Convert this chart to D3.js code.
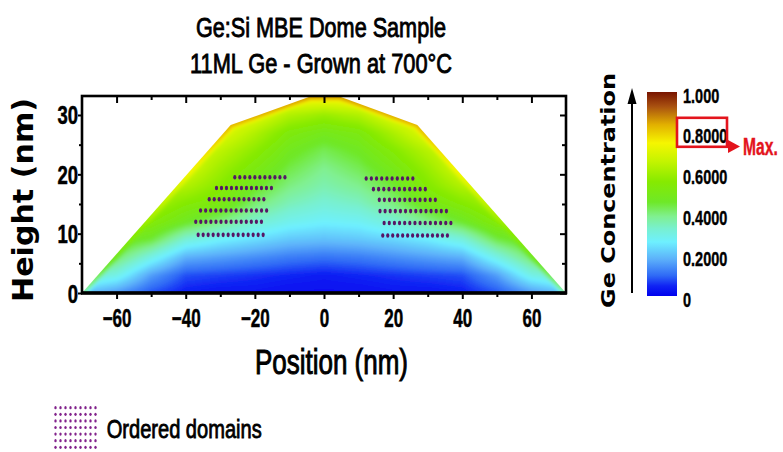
<!DOCTYPE html>
<html><head><meta charset="utf-8">
<script src="https://cdn.jsdelivr.net/npm/d3@7"></script>
<style>html,body{margin:0;padding:0;background:#fff;} svg{display:block}</style>
</head><body>
<svg id="chart" width="783" height="452"></svg>
<script>
// ---------------- data ----------------
const titleLines = ["Ge:Si MBE Dome Sample", "11ML Ge - Grown at 700°C"];
const xLabel = "Position (nm)";
const yLabel = "Height (nm)";
const cbTitle = "Ge Concentration";
const legendLabel = "Ordered domains";
const maxLabel = "Max.";
const xTicks = [-60, -40, -20, 0, 20, 40, 60];
const xMinorTicks = [-50, -30, -10, 10, 30, 50];
const yTicks = [0, 10, 20, 30];
const yMinorTicks = [5, 15, 25];
const cbTicks = [0, 0.2, 0.4, 0.6, 0.8, 1.0];
const cbTickLabels = ["0", "0.2000", "0.4000", "0.6000", "0.8000", "1.000"];
const maxValue = 0.8;

// dome surface profile (nm)
const profileX = [-70, -27, -4, 4.5, 27, 70];
const profileH = [0, 28.3, 33.1, 33.1, 28.3, 0];
// Ge concentration right at the surface
const rimX = [-70, -55, -40, -27, -4, 4.5, 27, 40, 55, 70];
const rimC = [0.38, 0.56, 0.74, 0.84, 0.86, 0.86, 0.84, 0.74, 0.56, 0.38];

// Ge concentration field (rows = heights, cols = positions)
const gridX = [-70, -60, -50, -40, -30, -20, -10, 0, 10, 20, 30, 40, 50, 60, 70];
const gridH = [0, 3, 6, 9, 12, 15, 18, 21, 24, 27, 30, 33];
const conc = [
  [0.20,0.15,0.08,0.04,0.03,0.03,0.02,0.02,0.02,0.03,0.03,0.04,0.08,0.15,0.20],
  [0.35,0.30,0.16,0.08,0.07,0.06,0.05,0.04,0.05,0.06,0.07,0.08,0.16,0.30,0.35],
  [0.45,0.42,0.30,0.18,0.16,0.14,0.12,0.11,0.12,0.14,0.16,0.18,0.30,0.42,0.45],
  [0.50,0.50,0.45,0.32,0.27,0.24,0.21,0.20,0.21,0.23,0.26,0.31,0.44,0.50,0.50],
  [0.55,0.55,0.55,0.47,0.40,0.33,0.29,0.27,0.28,0.32,0.39,0.46,0.55,0.55,0.55],
  [0.60,0.60,0.62,0.55,0.51,0.41,0.35,0.32,0.34,0.40,0.49,0.55,0.62,0.60,0.60],
  [0.62,0.62,0.64,0.63,0.56,0.47,0.40,0.36,0.39,0.45,0.55,0.63,0.64,0.62,0.62],
  [0.66,0.66,0.66,0.70,0.60,0.52,0.44,0.39,0.43,0.50,0.59,0.70,0.66,0.66,0.66],
  [0.70,0.70,0.70,0.72,0.65,0.57,0.48,0.43,0.47,0.55,0.64,0.72,0.70,0.70,0.70],
  [0.72,0.72,0.72,0.73,0.72,0.63,0.53,0.49,0.52,0.62,0.72,0.73,0.72,0.72,0.72],
  [0.74,0.74,0.74,0.74,0.74,0.72,0.63,0.59,0.63,0.72,0.74,0.74,0.74,0.74,0.74],
  [0.76,0.76,0.76,0.76,0.76,0.76,0.76,0.76,0.76,0.76,0.76,0.76,0.76,0.76,0.76]
];

// colour map stops
const cmapStops  = [0.00, 0.05, 0.10, 0.18, 0.265, 0.33, 0.39, 0.46, 0.56, 0.66, 0.75, 0.84, 0.93, 1.00];
const cmapColors = ["#0000ee","#1024f4","#2f6af6","#5cb0fa","#6ef0ff","#78f0d0","#80f090","#6ee828","#86ea00","#c4f400","#f6f600","#e2b000","#a85010","#781400"];

// ordered-domain rows: height, first & last position, dot count
const domainRows = [
  {h: 19.5, x0: -25.8, x1: -11.3, n: 11},
  {h: 17.7, x0: -31.1, x1: -15.2, n: 12},
  {h: 15.8, x0: -33.2, x1: -17.4, n: 12},
  {h: 13.9, x0: -35.7, x1: -16.6, n: 14},
  {h: 12.0, x0: -37.1, x1: -18.1, n: 14},
  {h: 9.8,  x0: -36.4, x1: -17.6, n: 14},
  {h: 19.3, x0: 12.2,  x1: 25.7,  n: 10},
  {h: 17.5, x0: 14.3,  x1: 29.3,  n: 11},
  {h: 15.7, x0: 16.0,  x1: 32.2,  n: 12},
  {h: 13.8, x0: 16.2,  x1: 35.4,  n: 14},
  {h: 11.8, x0: 17.4,  x1: 36.7,  n: 14},
  {h: 9.7,  x0: 17.0,  x1: 35.7,  n: 14}
];

// ---------------- layout ----------------
const svg = d3.select("#chart");
const plotL = 82, plotR = 566, plotT = 96, plotB = 293;
const xs = d3.scaleLinear().domain([-70, 70]).range([plotL, plotR]);
const ys = d3.scaleLinear().domain([0, 33.2]).range([plotB, plotT]);
const cmap = d3.scaleLinear().domain(cmapStops).range(cmapColors).interpolate(d3.interpolateRgb).clamp(true);
const SANS = "'Liberation Sans', Arial, sans-serif";
const WIDE = "'DejaVu Sans', Verdana, sans-serif";

function condense(sel, k) {
  sel.each(function () {
    const w = this.getComputedTextLength();
    d3.select(this).attr("textLength", w * k).attr("lengthAdjust", "spacingAndGlyphs");
  });
}
function fitTo(sel, w) { sel.attr("textLength", w).attr("lengthAdjust", "spacingAndGlyphs"); }
function heavy(sel, w) { sel.attr("stroke", sel.attr("fill")).attr("stroke-width", w).attr("paint-order", "stroke"); }

// ---------------- field raster ----------------
const M = 10;
const W = (plotR - plotL) + 2 * M, H = (plotB - plotT) + 2 * M;
const cv = document.createElement("canvas");
cv.width = W; cv.height = H;
const ctx = cv.getContext("2d");
const img = ctx.createImageData(W, H);
const lut = d3.range(1001).map(i => d3.rgb(cmap(i / 1000)));
const topPts = profileX.map((d, i) => [xs(d), ys(profileH[i])]);
const surfC = d3.scaleLinear().domain(rimX).range(rimC).clamp(true);
function distTop(px, py) {
  let best = 1e9;
  for (let k = 0; k < topPts.length - 1; k++) {
    const [ax, ay] = topPts[k], [bx, by] = topPts[k + 1];
    const dx = bx - ax, dy = by - ay;
    let t = ((px - ax) * dx + (py - ay) * dy) / (dx * dx + dy * dy);
    t = Math.max(0, Math.min(1, t));
    const ex = ax + t * dx - px, ey = ay + t * dy - py;
    best = Math.min(best, Math.sqrt(ex * ex + ey * ey));
  }
  return best;
}
function sample(xv, hv) {
  xv = Math.max(gridX[0], Math.min(gridX[gridX.length - 1], xv));
  hv = Math.max(gridH[0], Math.min(gridH[gridH.length - 1], hv));
  let i = Math.min(gridX.length - 2, Math.max(0, d3.bisectRight(gridX, xv) - 1));
  let j = Math.min(gridH.length - 2, Math.max(0, d3.bisectRight(gridH, hv) - 1));
  const tx = (xv - gridX[i]) / (gridX[i + 1] - gridX[i]);
  const ty = (hv - gridH[j]) / (gridH[j + 1] - gridH[j]);
  const a = conc[j][i], b = conc[j][i + 1], c = conc[j + 1][i], d = conc[j + 1][i + 1];
  return (a * (1 - tx) + b * tx) * (1 - ty) + (c * (1 - tx) + d * tx) * ty;
}
const R = 6.5;
for (let py = 0; py < H; py++) {
  for (let px = 0; px < W; px++) {
    const X = plotL - M + px + 0.5, Y = plotT - M + py + 0.5;
    const xv = xs.invert(X), hv = ys.invert(Y);
    let v = sample(xv, hv);
    const dd = distTop(X, Y);
    if (dd < R) {
      let t = dd / R; t = t * t * (3 - 2 * t);
      v = surfC(xv) * (1 - t) + v * t;
    }
    const c = lut[Math.max(0, Math.min(1000, Math.round(v * 1000)))];
    const o = (py * W + px) * 4;
    img.data[o] = c.r; img.data[o + 1] = c.g; img.data[o + 2] = c.b; img.data[o + 3] = 255;
  }
}
ctx.putImageData(img, 0, 0);

const defs = svg.append("defs");
const domePath = d3.line().x(d => xs(d[0])).y(d => ys(d[1]))(profileX.map((d, i) => [d, profileH[i]])) + "Z";
defs.append("clipPath").attr("id", "domeClip").append("path").attr("d", domePath);
const blur = defs.append("filter").attr("id", "soft").attr("x", "-5%").attr("y", "-5%").attr("width", "110%").attr("height", "110%");
blur.append("feGaussianBlur").attr("stdDeviation", 1.4);

svg.append("g").attr("clip-path", "url(#domeClip)")
  .append("image")
  .attr("x", plotL - M).attr("y", plotT - M).attr("width", W).attr("height", H)
  .attr("preserveAspectRatio", "none")
  .attr("filter", "url(#soft)")
  .attr("href", cv.toDataURL());

// ---------------- ordered domain dots ----------------
const dots = [];
domainRows.forEach(r => {
  for (let k = 0; k < r.n; k++) dots.push({ x: r.x0 + k * (r.x1 - r.x0) / (r.n - 1), h: r.h });
});
svg.append("g").selectAll("ellipse").data(dots).join("ellipse")
  .attr("cx", d => xs(d.x)).attr("cy", d => ys(d.h))
  .attr("rx", 1.6).attr("ry", 2.3).attr("fill", "#561766");

// ---------------- axes / frame ----------------
function styleAxis(g) {
  g.select(".domain").remove();
  g.selectAll(".tick line").attr("stroke", "#000").attr("stroke-width", 2);
}
// bottom
svg.append("g").attr("transform", `translate(0,${plotB})`)
  .call(d3.axisBottom(xs).tickValues(xMinorTicks).tickSize(4).tickFormat(""))
  .call(styleAxis);
const bx = svg.append("g").attr("transform", `translate(0,${plotB})`)
  .call(d3.axisBottom(xs).tickValues(xTicks).tickSize(6).tickPadding(0).tickFormat(d3.format("d")))
  .call(styleAxis);
bx.selectAll("text").attr("y", 33.5).attr("dy", null)
  .attr("font-family", SANS).attr("font-weight", "bold").attr("font-size", 25).attr("fill", "#000")
  .call(condense, 0.68).call(heavy, 0.5);
// top (inward)
svg.append("g").attr("transform", `translate(0,${plotT})`)
  .call(d3.axisBottom(xs).tickValues(xMinorTicks).tickSize(4).tickFormat("")).call(styleAxis);
svg.append("g").attr("transform", `translate(0,${plotT})`)
  .call(d3.axisBottom(xs).tickValues(xTicks).tickSize(7).tickFormat("")).call(styleAxis);
// left
svg.append("g").attr("transform", `translate(${plotL},0)`)
  .call(d3.axisLeft(ys).tickValues(yMinorTicks).tickSize(3).tickFormat("")).call(styleAxis);
const ly = svg.append("g").attr("transform", `translate(${plotL},0)`)
  .call(d3.axisLeft(ys).tickValues(yTicks).tickSize(4).tickPadding(0).tickFormat(d3.format("d")))
  .call(styleAxis);
ly.selectAll("text").attr("x", -4).attr("dy", "0.36em")
  .attr("font-family", SANS).attr("font-weight", "bold").attr("font-size", 25).attr("fill", "#000")
  .call(condense, 0.74).call(heavy, 0.5);
// right (inward)
svg.append("g").attr("transform", `translate(${plotR},0)`)
  .call(d3.axisLeft(ys).tickValues(yMinorTicks).tickSize(4).tickFormat("")).call(styleAxis);
svg.append("g").attr("transform", `translate(${plotR},0)`)
  .call(d3.axisLeft(ys).tickValues(yTicks).tickSize(6).tickFormat("")).call(styleAxis);

svg.append("rect").attr("x", plotL).attr("y", plotT).attr("width", plotR - plotL).attr("height", plotB - plotT)
  .attr("fill", "none").attr("stroke", "#000").attr("stroke-width", 2.6);
svg.append("line").attr("x1", plotL - 1).attr("x2", plotR + 1).attr("y1", plotB).attr("y2", plotB)
  .attr("stroke", "#000").attr("stroke-width", 3.6);

// ---------------- titles & labels ----------------
svg.append("text").attr("x", 321).attr("y", 36.7).attr("text-anchor", "middle")
  .attr("font-family", SANS).attr("font-size", 28).attr("fill", "#000").text(titleLines[0])
  .call(fitTo, 250).call(heavy, 0.9);
svg.append("text").attr("x", 321).attr("y", 73.3).attr("text-anchor", "middle")
  .attr("font-family", SANS).attr("font-size", 28).attr("fill", "#000").text(titleLines[1])
  .call(fitTo, 262).call(heavy, 0.9);
svg.append("text").attr("x", 331.5).attr("y", 374).attr("text-anchor", "middle")
  .attr("font-family", SANS).attr("font-size", 35).attr("fill", "#000").text(xLabel)
  .call(fitTo, 153).call(heavy, 1.0);
svg.append("text").attr("transform", "translate(33,200) rotate(-90)").attr("text-anchor", "middle")
  .attr("font-family", WIDE).attr("font-weight", "bold").attr("font-size", 29).attr("fill", "#000")
  .text(yLabel).call(fitTo, 204);

// ---------------- colour bar ----------------
const cbL = 647, cbW = 30, cbTop = 92, cbBot = 296;
const cbs = d3.scaleLinear().domain([0, 1]).range([cbBot, cbTop]);
const grad = defs.append("linearGradient").attr("id", "cbGrad").attr("x1", 0).attr("y1", 1).attr("x2", 0).attr("y2", 0);
grad.selectAll("stop").data(cmapStops).join("stop")
  .attr("offset", d => d).attr("stop-color", d => cmap(d));
svg.append("rect").attr("x", cbL).attr("y", cbTop).attr("width", cbW).attr("height", cbBot - cbTop)
  .attr("fill", "url(#cbGrad)");
svg.append("g").selectAll("text").data(cbTicks).join("text")
  .attr("x", 683).attr("y", d => cbs(d) + 10.5)
  .attr("font-family", SANS).attr("font-weight", "bold").attr("font-size", 21).attr("fill", "#000")
  .text((d, i) => cbTickLabels[i]).call(condense, 0.69).call(heavy, 0.4);
svg.append("text").attr("transform", "translate(615,190.5) rotate(-90)").attr("text-anchor", "middle")
  .attr("font-family", WIDE).attr("font-weight", "bold").attr("font-size", 20).attr("fill", "#000")
  .text(cbTitle).call(fitTo, 235);
// vertical arrow
svg.append("line").attr("x1", 632).attr("x2", 632).attr("y1", 293).attr("y2", 100)
  .attr("stroke", "#000").attr("stroke-width", 2);
svg.append("path").attr("d", "M627.5,104 L632,88 L636.5,104 Z").attr("fill", "#000");
// max marker
const red = "#e3141c";
const my = cbs(maxValue);
svg.append("rect").attr("x", 677).attr("y", my - 15).attr("width", 50).attr("height", 29)
  .attr("fill", "none").attr("stroke", red).attr("stroke-width", 2.6);
svg.append("line").attr("x1", 727).attr("x2", 730).attr("y1", my + 13.8).attr("y2", my + 13.8)
  .attr("stroke", red).attr("stroke-width", 2.6);
svg.append("path").attr("d", `M728,${my + 7.3} L740,${my + 13.8} L728,${my + 20.3} Z`).attr("fill", red);
svg.append("text").attr("transform", `translate(743,${my + 21.7}) scale(0.68,1)`)
  .attr("font-family", SANS).attr("font-weight", "bold").attr("font-size", 23).attr("fill", red)
  .text(maxLabel).call(heavy, 0.4);

// ---------------- legend ----------------
const lg = svg.append("g");
for (let r = 0; r < 7; r++) for (let c = 0; c < 9; c++) {
  lg.append("ellipse").attr("cx", 55.5 + c * 5).attr("cy", 407.7 + r * 6.6)
    .attr("rx", 1.2).attr("ry", 1.6).attr("fill", "#82238c");
}
svg.append("text").attr("x", 106.7).attr("y", 438.3)
  .attr("font-family", SANS).attr("font-size", 25).attr("fill", "#000")
  .text(legendLabel).call(fitTo, 155).call(heavy, 0.8);
</script>
</body></html>
